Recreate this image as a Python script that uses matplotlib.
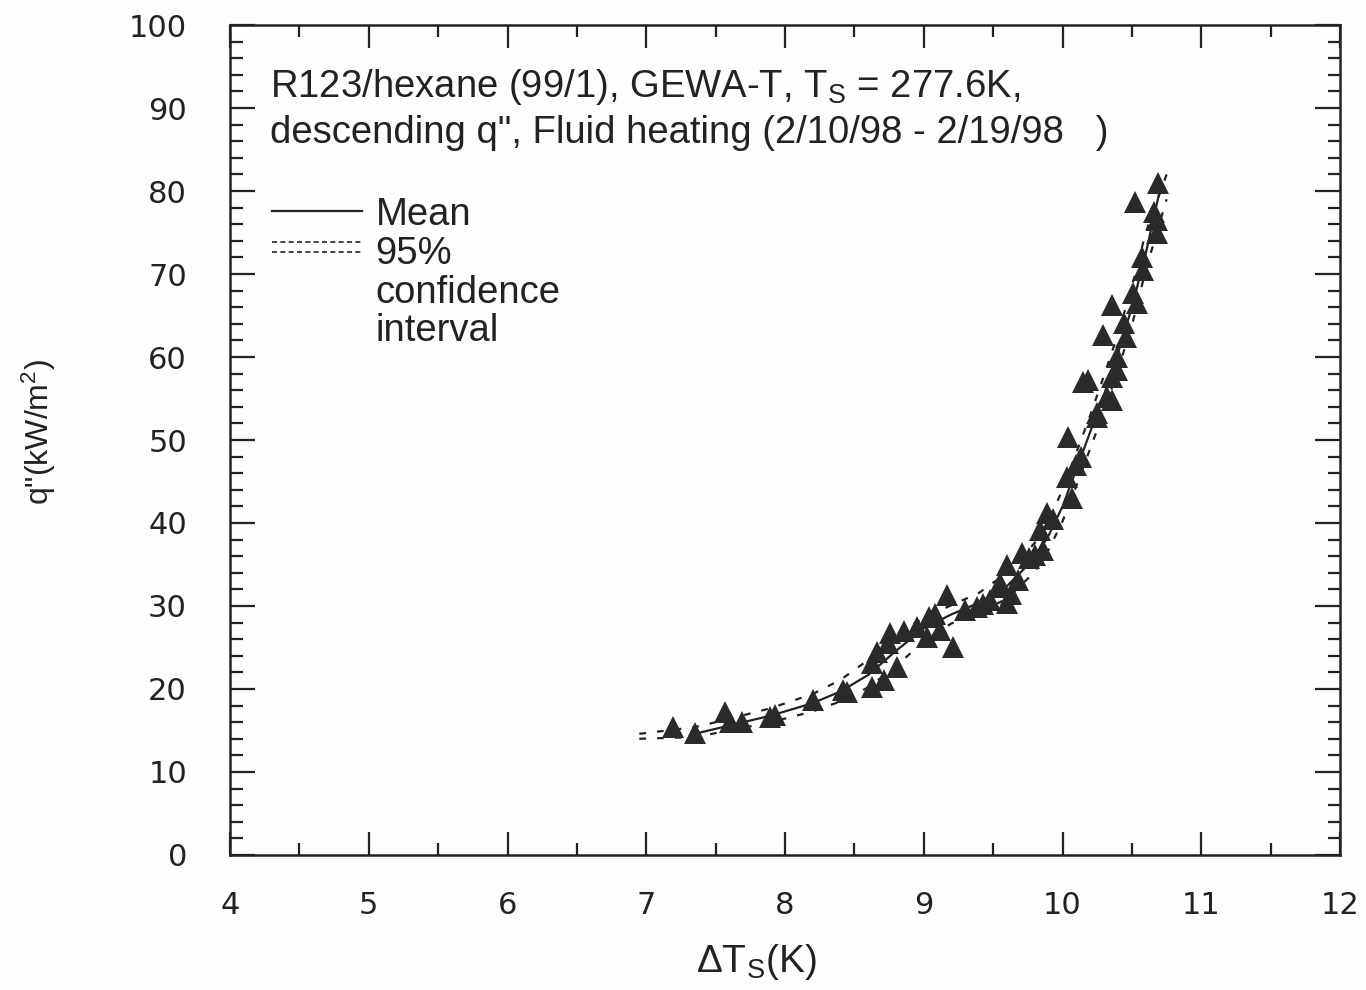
import matplotlib
matplotlib.use("Agg")
import matplotlib.pyplot as plt
from matplotlib.ticker import MultipleLocator
from matplotlib.lines import Line2D

# --- data ---
dT = [7.19, 7.35, 7.57, 7.60, 7.69, 7.89, 7.93, 8.20, 8.42, 8.45,
      8.63, 8.63, 8.66, 8.71, 8.76, 8.74, 8.81, 8.86, 8.95, 9.02,
      9.04, 9.08, 9.12, 9.17, 9.21, 9.30, 9.38, 9.43, 9.48, 9.55,
      9.55, 9.60, 9.60, 9.63, 9.68, 9.71, 9.76, 9.80, 9.84, 9.86,
      9.89, 9.93, 10.03, 10.04, 10.07, 10.10, 10.13, 10.15, 10.18, 10.25,
      10.25, 10.32, 10.36, 10.36, 10.39, 10.39, 10.29, 10.36, 10.44, 10.46,
      10.51, 10.54, 10.57, 10.58, 10.52, 10.68, 10.68, 10.69, 10.66]
q = [15.4, 14.7, 17.2, 16.0, 16.0, 16.6, 16.9, 18.7, 19.9, 19.6,
     20.2, 23.1, 24.5, 21.1, 26.7, 25.5, 22.7, 27.0, 27.5, 26.3,
     28.7, 29.0, 27.1, 31.3, 25.1, 29.5, 29.9, 30.2, 30.7, 32.3,
     32.8, 34.9, 30.3, 31.5, 33.1, 36.4, 35.8, 36.2, 39.2, 36.7,
     41.2, 40.5, 45.5, 50.4, 43.0, 47.0, 48.0, 57.0, 57.2, 53.2,
     52.8, 55.2, 54.8, 57.6, 58.4, 60.0, 62.7, 66.3, 64.1, 62.4,
     67.7, 66.5, 72.0, 70.5, 78.7, 76.5, 74.9, 81.0, 77.5]

mean_x = [7.35, 7.6, 7.9, 8.2, 8.4, 8.6, 8.8, 9.0, 9.2, 9.4, 9.6,
          9.8, 9.9, 10.0, 10.1, 10.2, 10.3, 10.4, 10.5, 10.6, 10.7]
mean_q = [14.6, 15.6, 16.8, 18.3, 19.7, 21.7, 24.6, 27.3, 29.0, 30.4, 32.4,
          35.8, 38.5, 42.0, 46.5, 51.0, 55.5, 60.5, 66.0, 72.5, 80.0]

band_x = [6.95, 7.35, 7.6, 7.9, 8.2, 8.4, 8.6, 8.8, 9.0, 9.2, 9.4, 9.6,
          9.8, 9.9, 10.0, 10.1, 10.2, 10.3, 10.4, 10.5, 10.6, 10.75]
upper_q = [14.6, 15.4, 16.4, 17.7, 19.4, 21.1, 23.5, 26.6, 28.6, 30.1, 31.6, 34.0,
           37.6, 40.3, 44.0, 48.5, 53.0, 57.8, 62.8, 68.5, 75.0, 82.0]
lower_q = [14.0, 14.2, 15.0, 16.0, 17.3, 18.5, 20.2, 22.7, 25.8, 27.9, 29.2, 30.9,
           34.1, 36.8, 40.2, 44.5, 49.0, 53.5, 58.5, 63.8, 70.5, 79.0]

plt.rcParams['font.family'] = ['Liberation Sans', 'DejaVu Sans']
plt.rcParams['mathtext.fontset'] = 'custom'
plt.rcParams['mathtext.rm'] = 'Liberation Sans'
plt.rcParams['mathtext.it'] = 'Liberation Sans'

ink = '#222222'
fig = plt.figure(figsize=(13.66, 9.9), dpi=100)
fig.patch.set_facecolor('#fdfdfb')
ax = fig.add_axes([0.1684, 0.1364, 0.8126, 0.8383])
ax.set_facecolor('#fdfdfb')

# --- confidence band, mean, data ---
ax.plot(band_x, upper_q, color=ink, lw=1.6, dashes=(3, 5))
ax.plot(band_x, lower_q, color=ink, lw=1.6, dashes=(3, 5))
ax.plot(mean_x, mean_q, color=ink, lw=1.6)
ax.plot(dT, q, linestyle='none', marker='^', ms=16, color='#2a2a2a',
        markeredgewidth=0)

ax.set_xlim(4, 12)
ax.set_ylim(0, 100)
ax.xaxis.set_major_locator(MultipleLocator(1))
ax.xaxis.set_minor_locator(MultipleLocator(0.5))
ax.yaxis.set_major_locator(MultipleLocator(10))
ax.yaxis.set_minor_locator(MultipleLocator(2))
ax.tick_params(axis='both', which='both', direction='in', top=True, right=True,
               colors=ink, width=1.6)
ax.tick_params(axis='x', which='major', length=16.5, pad=26, labelsize=22)
ax.tick_params(axis='x', which='minor', length=8.5)
ax.tick_params(axis='y', which='major', length=18, pad=31, labelsize=22)
ax.tick_params(axis='y', which='minor', length=9)
for lab in ax.get_xticklabels() + ax.get_yticklabels():
    lab.set_fontfamily('DejaVu Sans')
for s in ax.spines.values():
    s.set_linewidth(1.8)
    s.set_color(ink)

ax.set_xlabel(r'$\Delta$T$_\mathrm{S}$(K)', fontsize=28, color=ink, labelpad=8)
ax.xaxis.set_label_coords(0.474, -0.105)
ax.set_ylabel(r'q"(kW/m$^2$)', fontsize=23, color=ink)
ax.yaxis.set_label_coords(-0.155, 0.509)

# --- annotation text ---
ax.text(0.036, 0.913, 'R123/hexane (99/1), GEWA-T, T$_\\mathrm{S}$ = 277.6K,',
        transform=ax.transAxes, fontsize=27.5, color=ink, va='baseline', ha='left')
ax.text(0.036, 0.8578, 'descending q", Fluid heating (2/10/98 - 2/19/98   )',
        transform=ax.transAxes, fontsize=27.5, color=ink, va='baseline', ha='left')

# --- legend drawn by hand ---
ax.add_line(Line2D([0.038, 0.119], [0.776, 0.776], transform=ax.transAxes,
                   color=ink, lw=1.6))
for yy in (0.739, 0.726):
    ax.add_line(Line2D([0.038, 0.119], [yy, yy], transform=ax.transAxes,
                       color=ink, lw=1.2, dashes=(3, 2)))
legend_lines = ['Mean', '95%', 'confidence', 'interval']
legend_y = [0.776, 0.729, 0.682, 0.636]
for txt, yy in zip(legend_lines, legend_y):
    ax.text(0.131, yy, txt, transform=ax.transAxes, fontsize=27.5, color=ink,
            va='center_baseline', ha='left')

fig.savefig('out.png', dpi=100, facecolor=fig.get_facecolor())
